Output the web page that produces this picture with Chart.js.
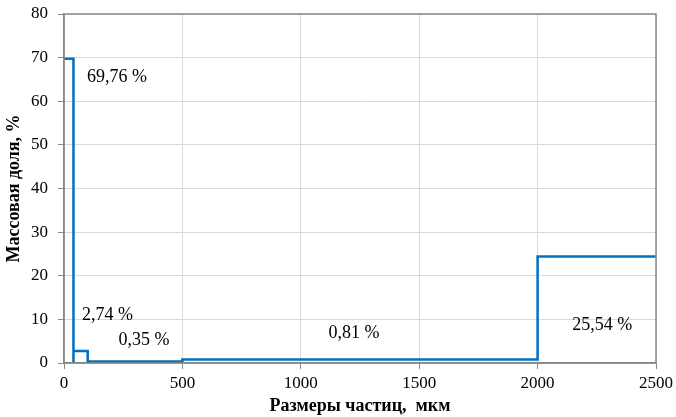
<!DOCTYPE html>
<html>
<head>
<meta charset="utf-8">
<script src="https://cdn.jsdelivr.net/npm/chart.js"></script>
<style>
  html, body { margin: 0; padding: 0; background: #fff; }
  #wrap { width: 676px; height: 417px; position: relative; }
</style>
</head>
<body>
<div id="wrap"><canvas id="psd"></canvas></div>
<script>
// Гранулометрический состав: ступенчатая линия
const stepX = [0, 40, 40, 40, 100, 100, 500, 500, 2000, 2000, 2500];
const stepY = [69.76, 69.76, 0, 2.74, 2.74, 0.35, 0.35, 0.81, 0.81, 24.4, 24.4];

// подписи фракций
const labelTexts = ["69,76 %", "2,74 %", "0,35 %", "0,81 %", "25,54 %"];
const labelX = [224, 184, 338, 1225, 2273];
const labelY = [65.6, 11.0, 5.2, 6.8, 8.7];

const xTicks = [0, 500, 1000, 1500, 2000, 2500];
const yTicks = [0, 10, 20, 30, 40, 50, 60, 70, 80];

const serif = "'Liberation Serif', 'Times New Roman', serif";

const labelsPlugin = {
  id: "fractionLabels",
  afterDraw(chart) {
    const ctx = chart.ctx;
    const xs = chart.scales.x, ys = chart.scales.y;
    const a = chart.chartArea;
    ctx.save();
    // рамка
    ctx.strokeStyle = "#898989";
    ctx.lineWidth = 1.5;
    ctx.strokeRect(a.left, a.top, a.right - a.left, a.bottom - a.top);
    ctx.font = "18px " + serif;
    ctx.fillStyle = "#000";
    ctx.textAlign = "center";
    ctx.textBaseline = "middle";
    labelTexts.forEach((t, i) => {
      ctx.fillText(t, xs.getPixelForValue(labelX[i]), ys.getPixelForValue(labelY[i]));
    });
    ctx.restore();
  }
};

new Chart(document.getElementById("psd"), {
  type: "scatter",
  data: {
    datasets: [{
      data: stepX.map((x, i) => ({ x: x, y: stepY[i] })),
      showLine: true,
      borderColor: "#0070c0",
      borderWidth: 2.5,
      pointRadius: 0,
      fill: false,
      tension: 0
    }]
  },
  options: {
    responsive: true,
    maintainAspectRatio: false,
    animation: false,
    layout: { padding: { top: 14, right: 20, left: 0, bottom: 0 } },
    plugins: { legend: { display: false }, tooltip: { enabled: false } },
    scales: {
      x: {
        type: "linear",
        min: 0,
        max: 2500,
        afterBuildTicks: s => { s.ticks = xTicks.map(v => ({ value: v })); },
        afterFit: s => { s.height = 54; s.paddingLeft = 0; s.paddingRight = 0; },
        grid: { color: "#d9d9d9", tickColor: "#898989", tickLength: 6, drawTicks: true },
        border: { color: "#898989", width: 1.5 },
        ticks: { color: "#000", font: { family: serif, size: 17 }, padding: 4, maxRotation: 0,
                 callback: v => String(v) },
        title: {
          display: true,
          text: "Размеры частиц,  мкм",
          color: "#000",
          font: { family: serif, size: 18, weight: "bold" },
          padding: { top: 0, bottom: 0 }
        }
      },
      y: {
        min: 0,
        max: 80,
        afterBuildTicks: s => { s.ticks = yTicks.map(v => ({ value: v })); },
        afterFit: s => { s.width = 64; s.paddingTop = 0; s.paddingBottom = 0; },
        grid: { color: "#d9d9d9", tickColor: "#898989", tickLength: 6 },
        border: { color: "#898989", width: 1.5 },
        ticks: { color: "#000", font: { family: serif, size: 17 }, padding: 10,
                 callback: v => String(v) },
        title: {
          display: true,
          text: "Массовая доля, %",
          color: "#000",
          font: { family: serif, size: 18, weight: "bold" },
          padding: { top: 4, bottom: 0 }
        }
      }
    }
  },
  plugins: [labelsPlugin]
});
</script>
</body>
</html>
